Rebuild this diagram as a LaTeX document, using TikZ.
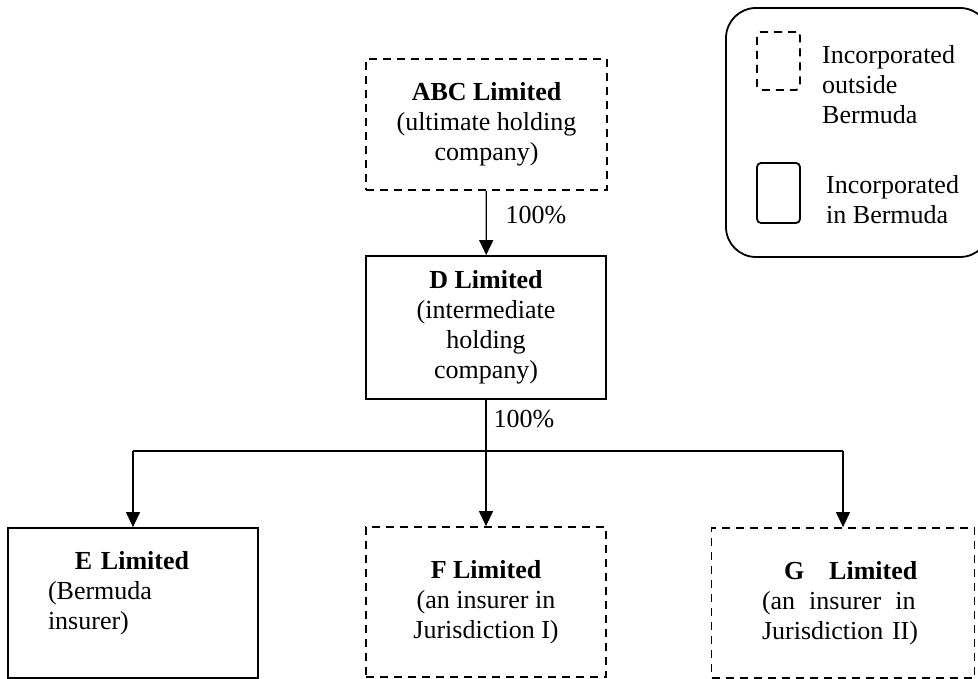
\documentclass[tikz,border=0pt]{standalone}
\usepackage{fontspec}
\setmainfont{Liberation Serif}
\usetikzlibrary{arrows.meta}

\begin{document}
\begin{tikzpicture}[x=1pt,y=-1pt,
  every node/.style={font=\fontsize{26}{30}\selectfont,inner sep=0pt},
  inbox/.style={draw,line width=1.8pt},
  outbox/.style={draw,line width=1.8pt,dash pattern=on 8pt off 6pt},
  link/.style={line width=1.3pt},
  arr/.style={link,-{Triangle[width=14pt,length=15pt]}}]
\useasboundingbox (0,0) rectangle (978,679);
\clip (0,0) rectangle (978,679);

% companies
\node[outbox,minimum width=241,minimum height=131,align=center] (abc) at (486.5,124.5)
  {\textbf{ABC Limited}\\(ultimate holding\\company)};
\node[inbox,minimum width=240,minimum height=143,align=center] (d) at (486,327.5)
  {\textbf{D Limited}\\(intermediate\\holding\\company)};
\node[inbox,minimum width=250,minimum height=150,align=left,text width=170] (e) at (133,603)
  {\hspace*{27pt}\textbf{E Limited}\\(Bermuda\\insurer)\\[-4pt]\mbox{}};
\node[outbox,minimum width=240,minimum height=150,align=center] (f) at (486,602)
  {\textbf{F Limited}\\(an insurer in\\Jurisdiction I)};
\node[outbox,minimum width=263,minimum height=150,align=left,text width=162] (g) at (843,603)
  {\hspace*{22pt}\textbf{G\hspace{25pt}Limited}\\(an\hspace{14pt}insurer\hspace{14pt}in\\Jurisdiction II)};

% ownership
\draw[arr] (abc) -- (d);
\node (pct1) at (536,215) {100\%};
\coordinate (split) at (486,451);
\draw[link] (d) -- (split);
\node (pct2) at (524,419) {100\%};
\draw[link] (e.north |- split) -- (g.north |- split);
\draw[arr] (e.north |- split) -- (e);
\draw[arr] (split) -- (f);
\draw[arr] (g.north |- split) -- (g);

% key
\node[draw,line width=1.8pt,rounded corners=30pt,minimum width=264,minimum height=249] (key) at (858,132.5) {};
\node[outbox,rounded corners=4pt,minimum width=43,minimum height=58] (keyout) at (778.5,61) {};
\node[inbox,rounded corners=4pt,minimum width=43,minimum height=60] (keyin) at (778.5,193) {};
\node[anchor=west,align=left] (keyouttext) at (822,85) {Incorporated\\outside\\Bermuda};
\node[anchor=west,align=left] (keyintext) at (826,200) {Incorporated\\in Bermuda};
\end{tikzpicture}
\end{document}
